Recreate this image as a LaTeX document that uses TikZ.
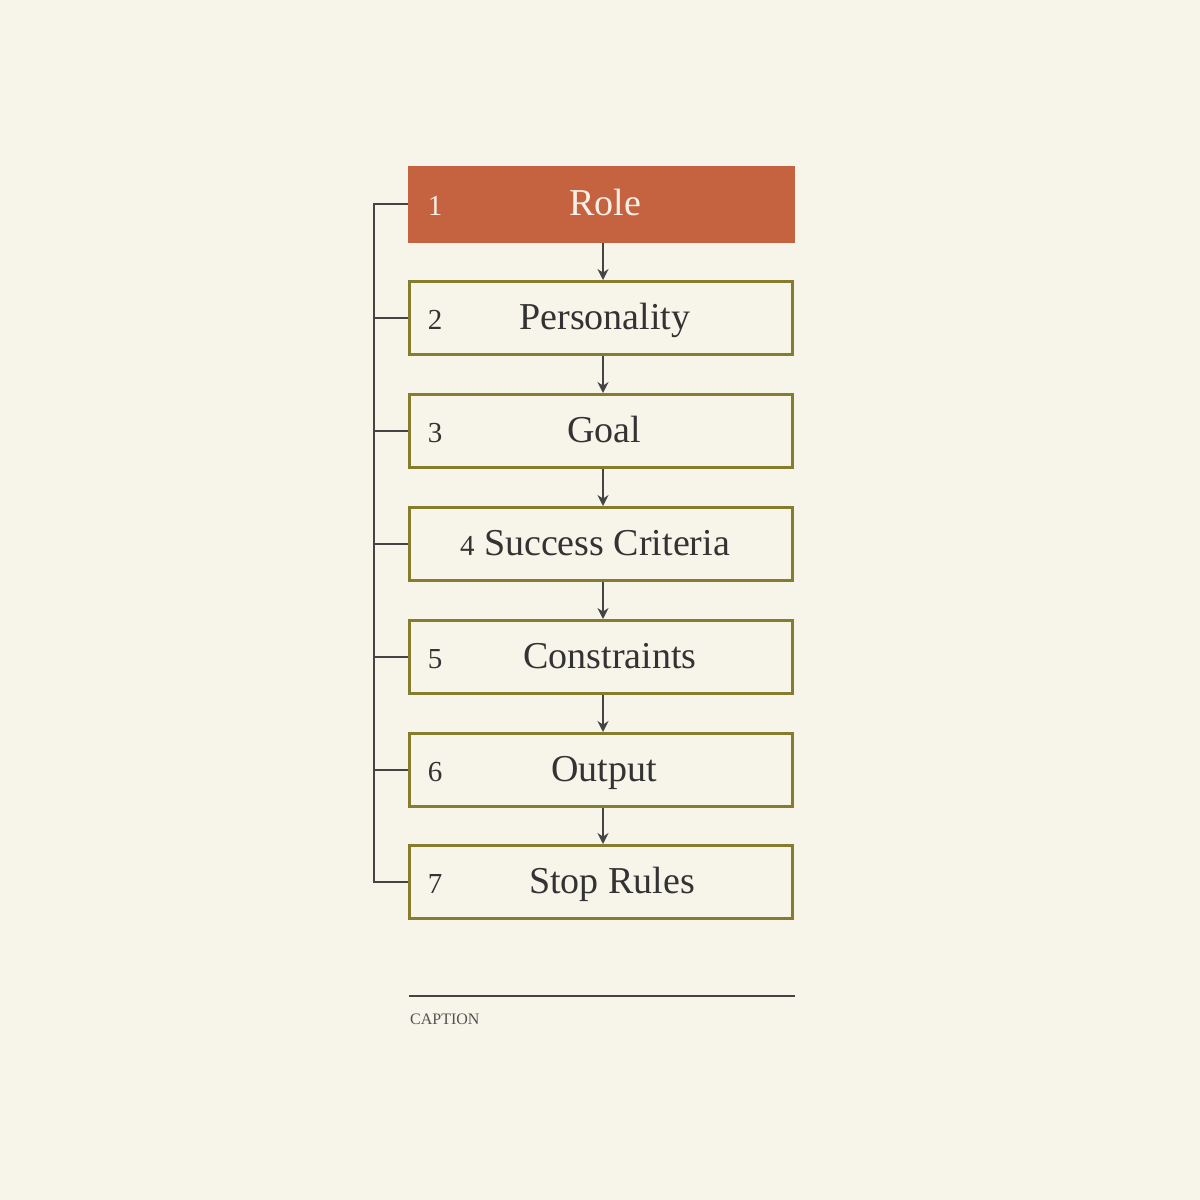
\documentclass[tikz,border=0pt]{standalone}
\usepackage{fontspec}
\setmainfont{Liberation Serif}
\usetikzlibrary{arrows.meta}
\definecolor{bg}{HTML}{F7F4EA}
\definecolor{rolefill}{HTML}{C5623F}
\definecolor{olive}{HTML}{867C2E}
\definecolor{ink}{HTML}{333333}
\definecolor{rail}{HTML}{444444}
\definecolor{roletext}{HTML}{F8F0E6}
\begin{document}
\begin{tikzpicture}[x=1pt,y=-1pt,
  boxstyle/.style={draw=olive,line width=3pt,fill=bg,minimum width=383pt,minimum height=73pt,inner sep=0pt},
  rolebox/.style={fill=rolefill,minimum width=387pt,minimum height=77pt,inner sep=0pt},
  numlabel/.style={font=\fontsize{29}{30}\selectfont,text=ink,text height=20pt,text depth=0pt,inner sep=0pt},
  titlelabel/.style={font=\fontsize{38}{40}\selectfont,text=ink,text height=24pt,text depth=4pt,inner sep=0pt},
  arr/.style={draw=rail,line width=1.8pt,-{Stealth[length=11pt,width=11pt]}},
  railline/.style={draw=rail,line width=2pt}]
\fill[bg] (0,0) rectangle (1200,1200);
\useasboundingbox (0,0) rectangle (1200,1200);
\coordinate (rail) at (374,0);
\coordinate (ax) at (603,0);
\node[rolebox] (b1) at (601.5,204) {};
\node[boxstyle] (b2) at (601,318) {};
\node[boxstyle] (b3) at (601,431) {};
\node[boxstyle] (b4) at (601,544) {};
\node[boxstyle] (b5) at (601,657) {};
\node[boxstyle] (b6) at (601,770) {};
\node[boxstyle] (b7) at (601,882) {};
% labels
\node[numlabel,text=roletext] (n1) at (435,205) {1};
\node[titlelabel,text=roletext] (t1) at (605,205) {Role};
\node[numlabel] (n2) at (435,319) {2};
\node[titlelabel] (t2) at (605,319) {Personality};
\node[numlabel] (n3) at (435,432) {3};
\node[titlelabel] (t3) at (604,432) {Goal};
\node[titlelabel] (t4) at (595,545) {{\fontsize{29}{30}\selectfont 4} Success Criteria};
\node[numlabel] (n5) at (435,658) {5};
\node[titlelabel] (t5) at (610,658) {Constraints};
\node[numlabel] (n6) at (435,771) {6};
\node[titlelabel] (t6) at (604,771) {Output};
\node[numlabel] (n7) at (435,883) {7};
\node[titlelabel] (t7) at (612,883) {Stop Rules};
% arrows
\foreach \a/\b in {b1/b2,b2/b3,b3/b4,b4/b5,b5/b6,b6/b7}{
  \draw[arr] (\a.south -| ax) -- (\b.north -| ax);
}
% rail
\draw[railline] (b1.west) -- (b1.west -| rail) -- (b7.west -| rail) -- (b7.west);
\foreach \b in {b2,b3,b4,b5,b6}{
  \draw[railline] (\b.west) -- (\b.west -| rail);
}
% caption
\draw[draw=rail,line width=2pt] (409,996) -- (795,996);
\node[anchor=base west,inner sep=0pt,text=ink!85,font=\fontsize{16}{18}\selectfont] (cap) at (410,1024) {CAPTION};
\end{tikzpicture}
\end{document}
